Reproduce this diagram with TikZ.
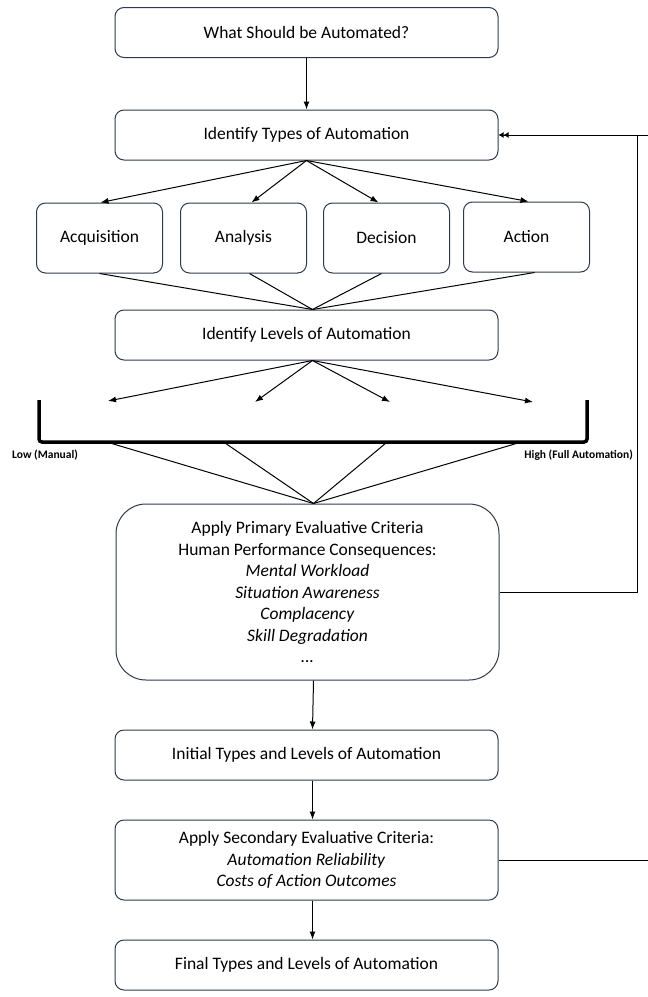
\documentclass[tikz,border=0pt]{standalone}
\usepackage{fontspec}
\setmainfont{Carlito}
\usetikzlibrary{arrows.meta,positioning}
\definecolor{boxline}{HTML}{2E3A4B}

\begin{document}
\begin{tikzpicture}[x=1pt,y=-1pt,
  stage/.style={draw=boxline,line width=1pt,rounded corners=9pt,minimum width=383pt,minimum height=50pt,align=center,font=\fontsize{17.5}{21.5}\selectfont},
  kind/.style={stage,minimum width=126pt,minimum height=70pt},
  tag/.style={font=\fontsize{11.5}{14}\selectfont\bfseries,inner sep=0pt},
  flow/.style={-{Latex[length=8pt,width=6pt]},line width=1pt},
  back/.style={-{Latex[length=5pt,width=6pt]Latex[length=5pt,width=6pt]},line width=1pt}]
\useasboundingbox (0,0) rectangle (648,997);
\node[stage] (what) at (306.5,32.5) {What Should be Automated?};
\node[stage] (types) at (306.5,135) {Identify Types of Automation};
\node[kind] (acq) at (99.5,238) {Acquisition};
\node[kind] (ana) at (243.5,238) {Analysis};
\node[kind] (dec) at (386.5,238) {Decision};
\node[kind] (act) at (526.5,237) {Action};
\node[stage] (levels) at (306.5,335) {Identify Levels of Automation};
\node[stage,rounded corners=30pt,minimum height=176pt] (prim) at (307.5,592) {Apply Primary Evaluative Criteria\\Human Performance Consequences:\\\textit{Mental Workload}\\\textit{Situation Awareness}\\\textit{Complacency}\\\textit{Skill Degradation}\\\textit{...}};
\node[stage] (init) at (306.5,755) {Initial Types and Levels of Automation};
\node[stage,minimum height=80pt] (second) at (306.5,860) {Apply Secondary Evaluative Criteria:\\\textit{Automation Reliability}\\\textit{Costs of Action Outcomes}};
\node[stage] (final) at (306.5,965) {Final Types and Levels of Automation};
\draw[line width=3.5pt,rounded corners=3pt] (39,400) -- (39,442) -- (587,442) -- (587,400);
\node[tag,anchor=north west] (low) at (12,450) {Low (Manual)};
\node[tag,anchor=north east] (high) at (633,450) {High (Full Automation)};
\coordinate (lv1) at (108,401);
\coordinate (lv2) at (255,402);
\coordinate (lv3) at (390,402);
\coordinate (lv4) at (533,402);
\coordinate (b1) at (110,443);
\coordinate (b2) at (225,443);
\coordinate (b3) at (386,443);
\coordinate (b4) at (518,443);
\coordinate (loop) at (637,135);
\coordinate (edge1) at (648,135);
\coordinate (edge2) at (648,860);
\draw[flow] (what) -- (types);
\foreach \t/\s in {acq/1,ana/8,dec/-8,act/2}
  \draw[flow] (types.south) -- ([xshift=\s pt]\t.north);
\foreach \t/\s in {acq/0,ana/6,dec/-5,act/8}
  \draw[line width=1pt] ([xshift=\s pt]\t.south) -- ([xshift=6pt]levels.north);
\foreach \c in {lv1,lv2,lv3,lv4}
  \draw[flow] ([xshift=6pt]levels.south) -- (\c);
\foreach \c in {b1,b2,b3,b4}
  \draw[line width=1pt] (\c) -- ([xshift=6pt]prim.north);
\draw[back] (edge1) -- (types.east);
\draw[line width=1pt] (prim.east) -| (loop);
\draw[flow] ([xshift=6pt]prim.south) -- ([xshift=6pt]init.north);
\draw[flow] ([xshift=6pt]init.south) -- ([xshift=6pt]second.north);
\draw[flow] ([xshift=6pt]second.south) -- ([xshift=6pt]final.north);
\draw[line width=1pt] (second.east) -- (edge2);
\end{tikzpicture}
\end{document}
